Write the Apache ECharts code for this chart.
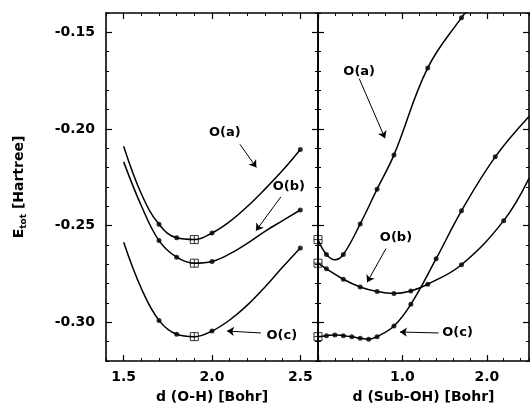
<!DOCTYPE html>
<html><head><meta charset="utf-8">
<script src="https://cdn.jsdelivr.net/npm/echarts@6/dist/echarts.min.js"></script>
<style>html,body{margin:0;padding:0;background:#fff}#c{width:530px;height:410px}</style>
</head><body><div id="c"></div>
<script>
// ---------- data ----------
// Left panel: d (O-H) [Bohr]
const leftX = [1.5, 1.6, 1.7, 1.8, 1.9, 2.0, 2.1, 2.2, 2.3, 2.4, 2.5];
const leftA = [-0.2089, -0.2335, -0.2493, -0.2563, -0.2572, -0.2538, -0.2479, -0.2401, -0.2311, -0.2214, -0.2106];
const leftB = [-0.2170, -0.2397, -0.2577, -0.2663, -0.2694, -0.2685, -0.2646, -0.2591, -0.2529, -0.2474, -0.2419];
const leftC = [-0.2586, -0.2825, -0.2990, -0.3062, -0.3074, -0.3045, -0.2988, -0.2911, -0.2817, -0.2714, -0.2615];
const leftMarkX = [1.7, 1.8, 2.0, 2.5];
const leftSquareX = [1.9];

// Right panel: d (Sub-OH) [Bohr]
const rightAX = [0, 0.1, 0.2, 0.3, 0.5, 0.7, 0.9, 1.3, 1.7, 1.8];
const rightA  = [-0.2572, -0.2649, -0.2676, -0.2649, -0.2491, -0.2311, -0.2134, -0.1684, -0.1424, -0.1375];
const rightAMarkX = [0.1, 0.3, 0.5, 0.7, 0.9, 1.3, 1.7];

const rightBX = [0, 0.1, 0.3, 0.5, 0.7, 0.9, 1.1, 1.3, 1.7, 2.2, 2.5];
const rightB  = [-0.2694, -0.2723, -0.2777, -0.2817, -0.2841, -0.2851, -0.2838, -0.2803, -0.2702, -0.2474, -0.2255];
const rightBMarkX = [0.1, 0.3, 0.5, 0.7, 0.9, 1.1, 1.3, 1.7, 2.2];

const rightCX = [0, 0.1, 0.2, 0.3, 0.4, 0.5, 0.6, 0.7, 0.9, 1.1, 1.4, 1.7, 2.1, 2.5];
const rightC  = [-0.3074, -0.3069, -0.3065, -0.3069, -0.3074, -0.3082, -0.3087, -0.3074, -0.3019, -0.2907, -0.2671, -0.2423, -0.2144, -0.1935];
const rightCMarkX = [0.1, 0.2, 0.3, 0.4, 0.5, 0.6, 0.7, 0.9, 1.1, 1.4, 1.7, 2.1];
const rightSquareX = [0];

// tick labels
const leftXTicks = [1.5, 2.0, 2.5];
const rightXTicks = [1.0, 2.0];
const yTicks = [-0.30, -0.25, -0.20, -0.15];

// ---------- chart ----------
const pairs = (xs, ys) => xs.map((x, i) => [x, ys[i]]);
const pick = (xs, ys, sel) => pairs(xs, ys).filter(p => sel.some(s => Math.abs(s - p[0]) < 1e-9));

const FONT = {fontFamily: 'DejaVu Sans', fontWeight: 'bold', fontSize: 14, color: '#000'};
const BLACK = '#000';
const LW = 1.6;

function xAxes(grid, min, max, minorInt, majors, label, name) {
  const base = {type: 'value', gridIndex: grid, min: min, max: max, splitLine: {show: false}};
  return [
    Object.assign({}, base, {position: 'bottom',
      axisLine: {show: true, onZero: false, lineStyle: {color: BLACK, width: LW}},
      axisTick: {show: true, inside: true, length: 6, customValues: majors, lineStyle: {color: BLACK, width: 1.2}},
      axisLabel: {show: true, customValues: label, formatter: v => v.toFixed(1), margin: 9, ...FONT},
      name: name, nameLocation: 'middle', nameGap: 29, nameTextStyle: {...FONT}}),
    Object.assign({}, base, {position: 'bottom', interval: minorInt,
      axisLine: {show: false, onZero: false}, axisLabel: {show: false},
      axisTick: {show: true, inside: true, length: 3, lineStyle: {color: BLACK, width: 1}}}),
    Object.assign({}, base, {position: 'top',
      axisLine: {show: true, onZero: false, lineStyle: {color: BLACK, width: LW}},
      axisTick: {show: true, inside: true, length: 6, customValues: majors, lineStyle: {color: BLACK, width: 1.2}},
      axisLabel: {show: false}}),
    Object.assign({}, base, {position: 'top', interval: minorInt,
      axisLine: {show: false, onZero: false}, axisLabel: {show: false},
      axisTick: {show: true, inside: true, length: 3, lineStyle: {color: BLACK, width: 1}}})
  ];
}
function yAxes(grid, showLabel) {
  const base = {type: 'value', gridIndex: grid, min: -0.32, max: -0.14, splitLine: {show: false}};
  const main = Object.assign({}, base, {position: 'left',
    axisLine: {show: true, onZero: false, lineStyle: {color: BLACK, width: LW}},
    axisTick: {show: true, inside: true, length: 6, customValues: yTicks, lineStyle: {color: BLACK, width: 1.2}},
    axisLabel: showLabel ? {show: true, customValues: yTicks, formatter: v => v.toFixed(2), margin: 11, ...FONT} : {show: false}});
  if (showLabel) {
    Object.assign(main, {
      name: '{e|E}{s|tot}{e| [Hartree]}', nameLocation: 'middle', nameRotate: 90, nameGap: 78,
      nameTextStyle: {rich: {
        e: {fontFamily: 'DejaVu Sans', fontWeight: 'bold', fontSize: 14, color: BLACK, lineHeight: 18, verticalAlign: 'middle'},
        s: {fontFamily: 'DejaVu Sans', fontWeight: 'bold', fontSize: 9, color: BLACK, lineHeight: 18, verticalAlign: 'bottom', padding: [6, 0, 0, 0]}
      }}
    });
  }
  return [
    main,
    Object.assign({}, base, {position: 'left', interval: 0.01,
      axisLine: {show: false, onZero: false}, axisLabel: {show: false},
      axisTick: {show: true, inside: true, length: 3, lineStyle: {color: BLACK, width: 1}}}),
    Object.assign({}, base, {position: 'right',
      axisLine: {show: true, onZero: false, lineStyle: {color: BLACK, width: LW}},
      axisTick: {show: true, inside: true, length: 6, customValues: yTicks, lineStyle: {color: BLACK, width: 1.2}},
      axisLabel: {show: false}}),
    Object.assign({}, base, {position: 'right', interval: 0.01,
      axisLine: {show: false, onZero: false}, axisLabel: {show: false},
      axisTick: {show: true, inside: true, length: 3, lineStyle: {color: BLACK, width: 1}}})
  ];
}

const SQUARE = 'path://M0,0L10,0L10,10L0,10Z M5,0L5,10 M0,5L10,5';

function curve(ax, data) {
  return {type: 'line', xAxisIndex: ax, yAxisIndex: ax, data: data, smooth: 0.4,
    showSymbol: false, symbol: 'none', clip: true, silent: true,
    lineStyle: {color: BLACK, width: 1.5}, z: 3};
}
function marks(ax, data) {
  return {type: 'scatter', xAxisIndex: ax, yAxisIndex: ax, data: data, symbol: 'circle',
    symbolSize: 5, itemStyle: {color: BLACK}, silent: true, z: 4};
}
function squares(ax, data) {
  return {type: 'scatter', xAxisIndex: ax, yAxisIndex: ax, data: data, symbol: SQUARE,
    symbolSize: 8, itemStyle: {color: 'rgba(0,0,0,0)', borderColor: BLACK, borderWidth: 1}, silent: true, z: 5};
}
function arrows(ax, list) {
  return {type: 'lines', coordinateSystem: 'cartesian2d', xAxisIndex: ax, yAxisIndex: ax,
    symbol: ['none', 'arrow'], symbolSize: [0, 7], silent: true,
    lineStyle: {color: BLACK, width: 1, opacity: 1}, data: list.map(c => ({coords: c})), z: 6};
}
function labels(ax, list) {
  return {type: 'scatter', xAxisIndex: ax, yAxisIndex: ax, symbol: 'circle', symbolSize: 0,
    itemStyle: {color: BLACK, opacity: 1}, silent: true, z: 7,
    label: {show: true, position: [0, 0], align: 'center', verticalAlign: 'middle', formatter: '{b}',
      fontFamily: 'DejaVu Sans', fontWeight: 'bold', fontSize: 13, color: '#000',
      opacity: 1, textBorderWidth: 0},
    data: list.map(l => ({name: l[0], value: [l[1], l[2]]}))};
}

const option = {
  backgroundColor: '#fff',
  animation: false,
  grid: [
    {left: 106, top: 13, width: 212, height: 348},
    {left: 318, top: 13, width: 211, height: 348}
  ],
  xAxis: [].concat(
    xAxes(0, 1.4, 2.6, 0.1, leftXTicks, leftXTicks, 'd (O-H) [Bohr]'),
    xAxes(1, 0, 2.5, 0.2, [0].concat(rightXTicks), rightXTicks, 'd (Sub-OH) [Bohr]')
  ),
  yAxis: [].concat(yAxes(0, true), yAxes(1, false)),
  series: [
    curve(0, pairs(leftX, leftA)), curve(0, pairs(leftX, leftB)), curve(0, pairs(leftX, leftC)),
    marks(0, pick(leftX, leftA, leftMarkX)), marks(0, pick(leftX, leftB, leftMarkX)), marks(0, pick(leftX, leftC, leftMarkX)),
    squares(0, [].concat(pick(leftX, leftA, leftSquareX), pick(leftX, leftB, leftSquareX), pick(leftX, leftC, leftSquareX))),
    curve(4, pairs(rightAX, rightA)), curve(4, pairs(rightBX, rightB)), curve(4, pairs(rightCX, rightC)),
    marks(4, pick(rightAX, rightA, rightAMarkX)), marks(4, pick(rightBX, rightB, rightBMarkX)), marks(4, pick(rightCX, rightC, rightCMarkX)),
    squares(4, [].concat(pick(rightAX, rightA, rightSquareX), pick(rightBX, rightB, rightSquareX), pick(rightCX, rightC, rightSquareX))),
    arrows(0, [
      [[2.158, -0.2079], [2.251, -0.2199]],
      [[2.39, -0.2351], [2.249, -0.2526]],
      [[2.277, -0.3055], [2.085, -0.3045]]
    ]),
    labels(0, [['O(a)', 2.073, -0.2017], ['O(b)', 2.435, -0.2300], ['O(c)', 2.395, -0.3070]]),
    arrows(4, [
      [[0.488, -0.1739], [0.794, -0.2048]],
      [[0.806, -0.2618], [0.582, -0.2793]],
      [[1.429, -0.3055], [0.971, -0.3050]]
    ]),
    labels(4, [['O(a)', 0.488, -0.1703], ['O(b)', 0.924, -0.2562], ['O(c)', 1.653, -0.3055]])
  ]
};
const chart = echarts.init(document.getElementById('c'), null, {renderer: 'canvas'});
chart.setOption(option);
</script></body></html>
